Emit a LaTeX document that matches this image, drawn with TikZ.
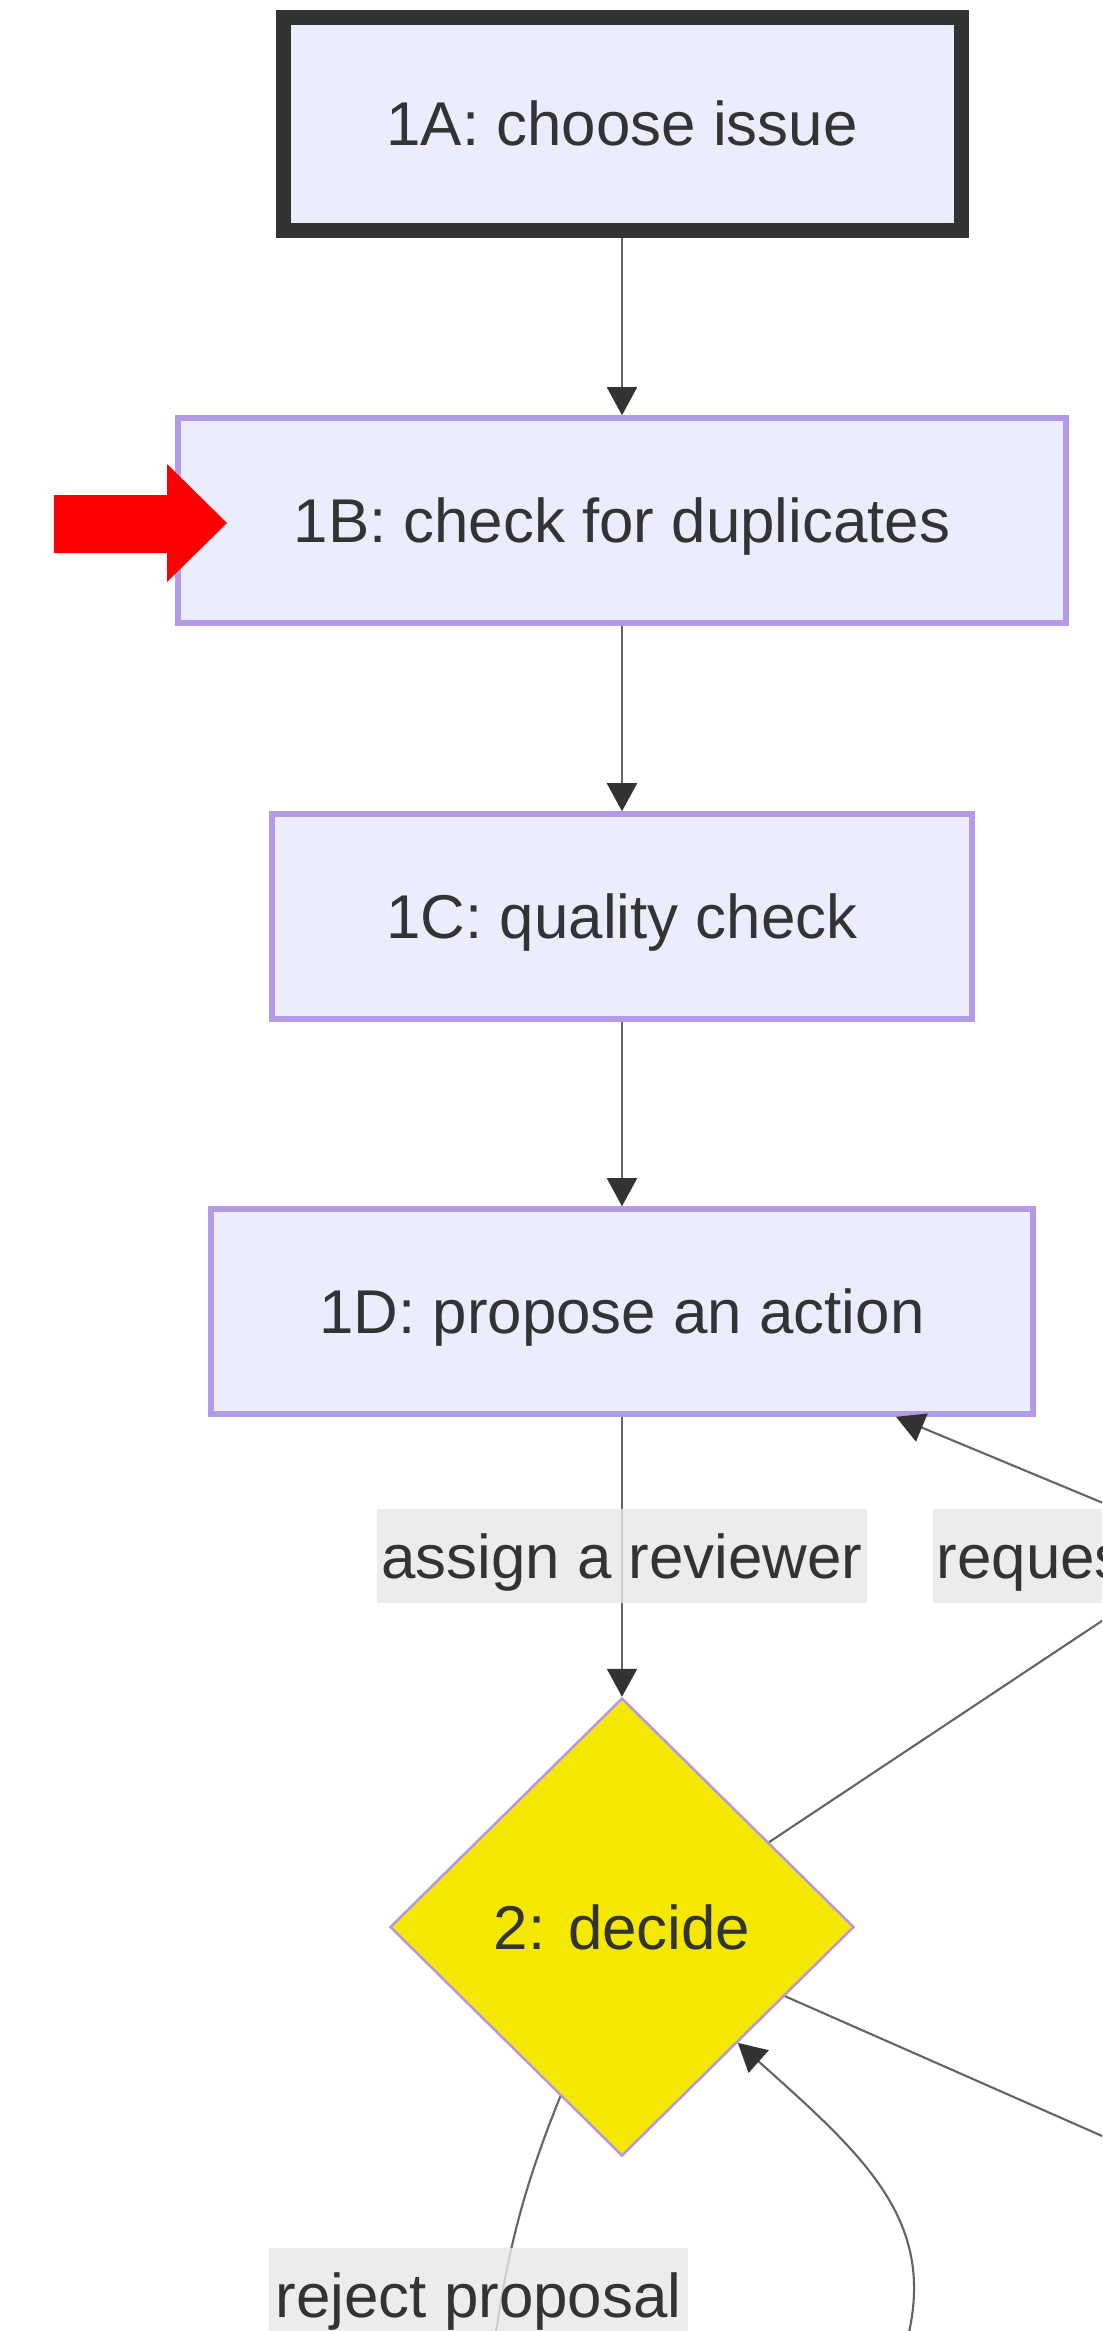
\documentclass[tikz,border=0pt]{standalone}
\usepackage{fontspec}
\setmainfont{Liberation Sans}
\usetikzlibrary{calc, shapes.geometric, arrows.meta}
\definecolor{boxfill}{RGB}{236,236,255}
\definecolor{boxline}{RGB}{178,154,230}
\definecolor{darkline}{RGB}{51,51,51}
\definecolor{txtc}{RGB}{51,51,51}
\definecolor{decfill}{RGB}{245,232,0}
\definecolor{decline}{RGB}{180,150,225}
\definecolor{lblfill}{RGB}{232,232,232}
\definecolor{linkc}{RGB}{100,100,100}
\tikzset{
  font=\fontsize{17.6}{21}\selectfont,
  % Set arrowhead
  >={Triangle[width=3mm, length=2.8mm, color=darkline]},
  % Step box
  box/.style={draw=boxline, fill=boxfill, line width=1.6pt, text=txtc,
    minimum height=2.05cm, inner sep=0pt, text height=0.44cm, text depth=0pt},
  % Start box
  startbox/.style={box, draw=darkline, line width=0.15cm, minimum height=2.13cm},
  % Decision node
  decision/.style={draw=decline, fill=decfill, shape=diamond, line width=0.7pt,
    minimum width=4.64cm, minimum height=4.58cm, inner sep=0pt, text=txtc},
  % Edge label
  elabel/.style={fill=lblfill, fill opacity=0.8, text opacity=1, text=txtc,
    minimum height=0.94cm, inner xsep=0.04cm, inner ysep=0pt,
    text height=0.44cm, text depth=0pt},
  % Connector
  link/.style={draw=linkc, line width=0.6pt},
}
\begin{document}
\begin{tikzpicture}

  % frame of the picture
  \useasboundingbox (0,0) rectangle (11.02,-23.31);
  \clip (0,0) rectangle (11.02,-23.31);
  \fill[white] (0,0) rectangle (11.02,-23.31);

  \node[startbox, minimum width=6.78cm] (n1a) at (6.22,-1.235) {1A: choose issue};
  \node[box, minimum width=8.88cm] (n1b) at (6.22,-5.205) {1B: check for duplicates};
  \node[box, minimum width=7.00cm] (n1c) at (6.22,-9.165) {1C: quality check};
  \node[box, minimum width=8.22cm] (n1d) at (6.22,-13.115) {1D: propose an action};
  \node[decision] (dec) at (6.22,-19.27) {2: decide};

  % ends that leave the picture
  \coordinate (o1) at (11.68,-15.77);
  \coordinate (o2) at (11.68,-15.30);
  \coordinate (o3) at (11.68,-21.65);
  \coordinate (o4) at (8.85,-24.00);
  \coordinate (o5) at (4.87,-24.00);
  \coordinate (d1) at ($(n1d.south)+(2.74,0)$);

  \draw[link, ->] (n1a) -- (n1b);
  \draw[link, ->] (n1b) -- (n1c);
  \draw[link, ->] (n1c) -- (n1d);
  \draw[link, ->] (n1d) -- (dec);
  \draw[link, ->] (dec.30) -- (o1) .. controls (12.0,-15.56) .. (o2) -- (d1);
  \draw[link] (dec.-23) -- (o3);
  \draw[link, ->] (o4) .. controls (9.60,-22.40) and (8.80,-21.70) .. (dec.-45);
  \draw[link] (dec.-110) to[out=-112, in=83] (o5);

  % labels over the connectors
  \node[elabel, minimum width=4.76cm] (lassign) at (6.22,-15.56) {assign a reviewer};
  \node[elabel, anchor=west] (lreq) at (9.32,-15.56) {reques};
  \node[elabel, minimum width=4.19cm] (lrej) at (4.785,-22.95) {reject proposal};

  % red pointer
  \fill[red] (0.54,-4.95) -- (1.67,-4.95) -- (1.67,-4.64) -- (2.27,-5.23)
    -- (1.67,-5.82) -- (1.67,-5.53) -- (0.54,-5.53) -- cycle;

\end{tikzpicture}
\end{document}
